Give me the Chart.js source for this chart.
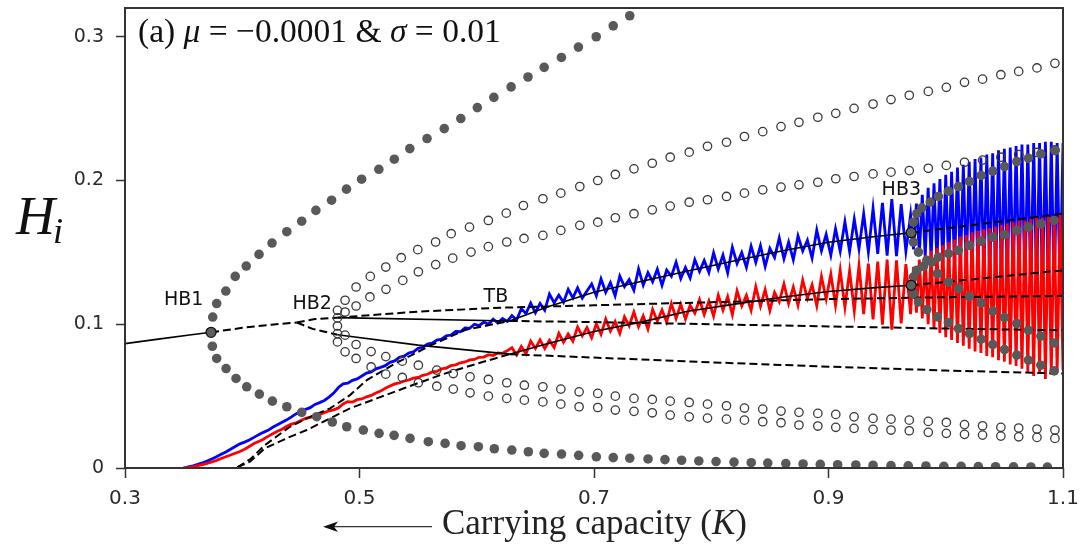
<!DOCTYPE html>
<html>
<head>
<meta charset="utf-8">
<script src="https://cdn.jsdelivr.net/npm/chart.js@4.4.1/dist/chart.umd.min.js"></script>
<style>
  html, body { margin: 0; padding: 0; background: #fff; }
  #wrap { width: 1081px; height: 549px; }
</style>
</head>
<body>
<div id="wrap"><canvas id="chart" width="1081" height="549"></canvas></div>
<script>
// Axis ticks
const xTicks = [0.3, 0.5, 0.7, 0.9, 1.1];
const yTicks = [0, 0.1, 0.2, 0.3];

// Equilibrium branches [K, H]
const leftStable = [[0.3, 0.0865], [0.33, 0.0898], [0.355, 0.0925], [0.3734, 0.0944]];
const hb1ToFold = [[0.3734, 0.0944], [0.40, 0.0975], [0.425, 0.0997], [0.4465, 0.1012]];
const foldToHb2Up = [[0.4465, 0.1012], [0.462, 0.1036], [0.4812, 0.1046]];
const foldToHb2Low = [[0.4465, 0.1012], [0.46, 0.0968], [0.4812, 0.0927]];
const topUnstable = [[0.4812, 0.1046], [0.55, 0.1088], [0.62, 0.1115], [0.70, 0.1132], [0.8, 0.1153], [0.9, 0.1175], [1.0, 0.1188], [1.1, 0.1197]];
const hb2TbUp = [[0.4812, 0.1046], [0.628, 0.1023]];
const hb2TbLow = [[0.4812, 0.0927], [0.55, 0.0855], [0.628, 0.0792]];
const tbUpRight = [[0.628, 0.1023], [0.7, 0.1015], [0.8, 0.1], [0.9, 0.0985], [1.0, 0.097], [1.1, 0.0958]];
const tbLowRight = [[0.628, 0.0792], [0.7, 0.0768], [0.8, 0.0735], [0.9, 0.0705], [1.0, 0.0678], [1.1, 0.0657]];
const blueUnstable = [[0.3958, 0.0005], [0.4066, 0.006], [0.4194, 0.016], [0.4407, 0.0287], [0.4578, 0.0356], [0.4749, 0.0415], [0.4919, 0.0507], [0.5062, 0.0611], [0.53, 0.0725], [0.56, 0.085], [0.59, 0.096], [0.628, 0.1023]];
const redUnstable = [[0.3958, 0.0005], [0.4066, 0.0044], [0.4194, 0.0137], [0.4407, 0.0217], [0.455, 0.0264], [0.4749, 0.0345], [0.4919, 0.0415], [0.5147, 0.0484], [0.5374, 0.0553], [0.57, 0.065], [0.60, 0.0725], [0.628, 0.0792]];
const blueStable = [[0.628, 0.1023], [0.66, 0.112], [0.70, 0.1222], [0.74, 0.1298], [0.78, 0.137], [0.82, 0.1442], [0.86, 0.151], [0.90, 0.157], [0.94, 0.161], [0.9705, 0.1637]];
const redStable = [[0.628, 0.0792], [0.66, 0.0865], [0.70, 0.095], [0.74, 0.1015], [0.78, 0.109], [0.82, 0.114], [0.86, 0.1188], [0.90, 0.1228], [0.94, 0.1255], [0.9705, 0.1271]];
const blueAfterHb3 = [[0.9705, 0.1637], [1.1, 0.1769]];
const redAfterHb3 = [[0.9705, 0.1271], [1.1, 0.1375]];

// Hopf points
const hopfPoints = [[0.3734, 0.0944], [0.9705, 0.1637], [0.9705, 0.1271]];

// Stable limit cycle extrema (filled dots)
const hb1Upper = [[0.3748, 0.105], [0.3782, 0.1144], [0.386, 0.1231], [0.394, 0.1333], [0.4034, 0.1405], [0.4143, 0.1486], [0.4254, 0.1565], [0.438, 0.1644], [0.4507, 0.1717], [0.4628, 0.1792], [0.4762, 0.1863], [0.4889, 0.194], [0.5018, 0.2009], [0.5165, 0.2078], [0.5297, 0.2148], [0.5429, 0.2222], [0.5576, 0.2292], [0.5723, 0.2361], [0.5864, 0.2431], [0.6005, 0.2507], [0.6146, 0.2578], [0.6293, 0.2651], [0.6437, 0.272], [0.6575, 0.2787], [0.6722, 0.2856], [0.6867, 0.2928], [0.7019, 0.3], [0.7164, 0.3076], [0.7305, 0.3146]];
const hb1Lower = [[0.3745, 0.0847], [0.3782, 0.0762], [0.3862, 0.0692], [0.3947, 0.0623], [0.4038, 0.0565], [0.4146, 0.0514], [0.4257, 0.0465], [0.438, 0.0426], [0.4507, 0.0387], [0.4635, 0.0357], [0.4768, 0.032], [0.4891, 0.0287], [0.5033, 0.0264], [0.5167, 0.0241], [0.5295, 0.0227], [0.5431, 0.0206], [0.5587, 0.0183], [0.573, 0.0171], [0.5866, 0.0155], [0.6014, 0.0148], [0.615, 0.0134], [0.6299, 0.0125], [0.644, 0.0113], [0.6575, 0.0102], [0.6723, 0.0097], [0.6869, 0.0088], [0.702, 0.0078], [0.7164, 0.0072], [0.7305, 0.0068], [0.7461, 0.0063], [0.7605, 0.0058], [0.7747, 0.0054], [0.7894, 0.0049], [0.8041, 0.0045], [0.8194, 0.0041], [0.8341, 0.0037], [0.8482, 0.0034], [0.8636, 0.0031], [0.8783, 0.0028], [0.893, 0.0025], [0.9078, 0.0023], [0.9233, 0.0021], [0.938, 0.0019], [0.9533, 0.0017], [0.968, 0.0015], [0.9831, 0.0014], [0.9984, 0.0012], [1.0131, 0.0011], [1.0278, 0.001], [1.0425, 0.0009], [1.0578, 0.0008], [1.0726, 0.0007], [1.0867, 0.0006]];
const hb3UpUp = [[0.9724, 0.171], [0.9753, 0.1769], [0.9796, 0.181], [0.9867, 0.185], [0.9937, 0.1889], [1.0023, 0.1926], [1.0108, 0.1958], [1.0202, 0.1993], [1.0302, 0.2035], [1.0401, 0.2065], [1.0501, 0.2097], [1.0606, 0.2132], [1.0705, 0.2155], [1.0811, 0.2185], [1.0933, 0.2208]];
const hb3UpDown = [[0.9724, 0.1572], [0.9767, 0.1502], [0.9839, 0.1444], [0.9929, 0.1352], [1.0023, 0.1294], [1.0108, 0.1248], [1.0202, 0.1194], [1.0302, 0.1148], [1.0401, 0.1092], [1.0501, 0.1047], [1.0606, 0.1005], [1.0705, 0.0958], [1.0811, 0.0917], [1.0924, 0.087]];
const hb3LowUp = [[0.9724, 0.1328], [0.9753, 0.1375], [0.981, 0.1403], [0.9881, 0.1433], [0.9937, 0.1467], [1.0023, 0.1491], [1.0108, 0.1514], [1.0202, 0.1549], [1.0302, 0.1578], [1.0401, 0.1606], [1.0501, 0.1623], [1.0606, 0.1653], [1.0705, 0.1676], [1.0811, 0.1699], [1.0924, 0.1722]];
const hb3LowDown = [[0.9724, 0.1213], [0.9767, 0.1155], [0.9839, 0.1102], [0.9929, 0.1051], [1.0023, 0.1012], [1.0108, 0.097], [1.0202, 0.0935], [1.0302, 0.0896], [1.0401, 0.0859], [1.0501, 0.0824], [1.0606, 0.0785], [1.0705, 0.075], [1.0811, 0.0715], [1.0924, 0.0676]];

// Unstable limit cycle extrema (open circles)
const hb2OuterUp = [[0.4812, 0.1097], [0.4877, 0.1167], [0.4971, 0.1259], [0.5092, 0.1333], [0.5224, 0.1398], [0.5356, 0.1463], [0.5497, 0.1519], [0.5649, 0.1572], [0.5782, 0.163], [0.5938, 0.1676], [0.6099, 0.1722], [0.6252, 0.1773], [0.6398, 0.1826], [0.6564, 0.1873], [0.6717, 0.1912], [0.6879, 0.1958], [0.7032, 0.2], [0.7182, 0.2042], [0.7341, 0.2081], [0.7497, 0.212], [0.765, 0.2162], [0.7812, 0.2197], [0.7968, 0.2238], [0.813, 0.2266], [0.8283, 0.2306], [0.8439, 0.234], [0.8595, 0.2375], [0.8748, 0.2405], [0.8909, 0.244], [0.9062, 0.2467], [0.9218, 0.2502], [0.938, 0.2532], [0.9533, 0.2563], [0.9689, 0.2593], [0.9851, 0.262], [1.0005, 0.2648], [1.016, 0.2683], [1.0314, 0.2705], [1.047, 0.2736], [1.0622, 0.2759], [1.0778, 0.2783], [1.0931, 0.2815]];
const hb2InnerUp = [[0.4812, 0.1044], [0.4877, 0.1085], [0.4971, 0.1127], [0.5089, 0.119], [0.5226, 0.1243], [0.5369, 0.1305], [0.5502, 0.1365], [0.565, 0.1415], [0.5795, 0.146], [0.5951, 0.1502], [0.6099, 0.154], [0.6256, 0.1572], [0.6403, 0.1597], [0.6564, 0.1618], [0.6717, 0.1653], [0.6879, 0.1688], [0.7032, 0.171], [0.7182, 0.1741], [0.7341, 0.1769], [0.7497, 0.1796], [0.765, 0.1822], [0.7812, 0.1849], [0.7968, 0.1866], [0.813, 0.1889], [0.8283, 0.1912], [0.8439, 0.1935], [0.8595, 0.1954], [0.8748, 0.197], [0.8909, 0.1988], [0.9062, 0.2012], [0.9218, 0.2028], [0.938, 0.2046], [0.9533, 0.2058], [0.9689, 0.2069], [0.9851, 0.2085], [1.0005, 0.2105], [1.016, 0.2127], [1.0314, 0.2142], [1.047, 0.2162], [1.0622, 0.2181], [1.0778, 0.2195], [1.0931, 0.2213]];
const hb2InnerLow = [[0.4812, 0.0988], [0.4877, 0.0924], [0.4971, 0.0859], [0.5099, 0.081], [0.5224, 0.0775], [0.5365, 0.0743], [0.5502, 0.0715], [0.5659, 0.0681], [0.58, 0.0657], [0.5943, 0.0634], [0.6099, 0.0616], [0.6256, 0.0593], [0.6406, 0.0576], [0.6564, 0.0565], [0.6717, 0.0549], [0.6873, 0.053], [0.7032, 0.0519], [0.7182, 0.05], [0.7341, 0.0484], [0.7497, 0.0477], [0.765, 0.0465], [0.7812, 0.0456], [0.7968, 0.0444], [0.813, 0.0433], [0.8283, 0.0417], [0.8439, 0.041], [0.8595, 0.0396], [0.8748, 0.0387], [0.8909, 0.038], [0.9062, 0.0373], [0.9218, 0.0356], [0.938, 0.0345], [0.9533, 0.034], [0.9689, 0.0333], [0.9851, 0.0324], [1.0005, 0.0317], [1.016, 0.0302], [1.0314, 0.0294], [1.047, 0.0283], [1.0622, 0.0278], [1.0778, 0.0271], [1.0931, 0.0264]];
const hb2OuterLow = [[0.4812, 0.0935], [0.4812, 0.0877], [0.4877, 0.0808], [0.4971, 0.0762], [0.5099, 0.0703], [0.5224, 0.0653], [0.5365, 0.063], [0.5502, 0.0593], [0.5659, 0.0569], [0.58, 0.0549], [0.5943, 0.0523], [0.6099, 0.05], [0.6256, 0.0484], [0.6406, 0.0472], [0.6564, 0.046], [0.6717, 0.0444], [0.6873, 0.0426], [0.7032, 0.0421], [0.7182, 0.0403], [0.7341, 0.0394], [0.7497, 0.0384], [0.765, 0.0368], [0.7812, 0.0356], [0.7968, 0.0347], [0.813, 0.034], [0.8283, 0.0333], [0.8439, 0.0322], [0.8595, 0.0315], [0.8748, 0.0299], [0.8909, 0.0292], [0.9062, 0.0283], [0.9218, 0.0276], [0.938, 0.0269], [0.9533, 0.0264], [0.9689, 0.0259], [0.9851, 0.0248], [1.0005, 0.0241], [1.016, 0.0234], [1.0314, 0.0229], [1.047, 0.0222], [1.0622, 0.0217], [1.0778, 0.0213], [1.0931, 0.0206]];

// Simulated trajectories, sampled on K grids
const simStart = 0.35, simStep = 0.004;
const oscStart = 0.9725, oscStep = 0.0025;
const blueSim = [
  0.0000, 0.0008, 0.0015, 0.0025, 0.0036, 0.0048, 0.0062, 0.0078, 0.0095, 0.0112,
  0.0130, 0.0150, 0.0168, 0.0180, 0.0195, 0.0213, 0.0232, 0.0248, 0.0262, 0.0283,
  0.0301, 0.0318, 0.0335, 0.0356, 0.0378, 0.0390, 0.0408, 0.0420, 0.0442, 0.0455,
  0.0470, 0.0493, 0.0521, 0.0560, 0.0585, 0.0590, 0.0610, 0.0620, 0.0640, 0.0660,
  0.0668, 0.0690, 0.0700, 0.0712, 0.0735, 0.0745, 0.0770, 0.0778, 0.0800, 0.0808,
  0.0832, 0.0840, 0.0862, 0.0868, 0.0890, 0.0896, 0.0920, 0.0925, 0.0950, 0.0948,
  0.0975, 0.0972, 0.1000, 0.0990, 0.1015, 0.1000, 0.1035, 0.1010, 0.1040, 0.1020,
  0.1060, 0.1030, 0.1108, 0.1075, 0.1148, 0.1080, 0.1145, 0.1097, 0.1210, 0.1150,
  0.1202, 0.1152, 0.1243, 0.1183, 0.1253, 0.1182, 0.1232, 0.1280, 0.1198, 0.1315,
  0.1222, 0.1290, 0.1198, 0.1335, 0.1262, 0.1310, 0.1237, 0.1385, 0.1272, 0.1359,
  0.1296, 0.1383, 0.1270, 0.1377, 0.1334, 0.1431, 0.1318, 0.1395, 0.1322, 0.1449,
  0.1366, 0.1443, 0.1360, 0.1497, 0.1384, 0.1481, 0.1358, 0.1535, 0.1422, 0.1499,
  0.1396, 0.1543, 0.1430, 0.1546, 0.1402, 0.1528, 0.1464, 0.1600, 0.1456, 0.1572,
  0.1448, 0.1614, 0.1510, 0.1585, 0.1460, 0.1655, 0.1510, 0.1625, 0.1480, 0.1664,
  0.1508, 0.1712, 0.1506, 0.1730, 0.1524, 0.1768, 0.1502, 0.1806, 0.1490, 0.1844,
  0.1478, 0.1871, 0.1474, 0.1836, 0.1508, 0.1760
];
const blueOsc = [
  0.152, 0.184, 0.149, 0.190, 0.147, 0.195, 0.145, 0.198, 0.143, 0.201,
  0.142, 0.204, 0.140, 0.206, 0.139, 0.209, 0.138, 0.211, 0.136, 0.213,
  0.135, 0.215, 0.134, 0.216, 0.132, 0.218, 0.131, 0.219, 0.130, 0.221,
  0.129, 0.222, 0.128, 0.223, 0.127, 0.224, 0.126, 0.225, 0.125, 0.225,
  0.124, 0.226, 0.123, 0.226, 0.122, 0.227, 0.121, 0.227, 0.120, 0.226,
  0.120, 0.226
];
const redSim = [
  0.0000, 0.0005, 0.0010, 0.0016, 0.0024, 0.0032, 0.0042, 0.0053, 0.0066, 0.0078,
  0.0090, 0.0103, 0.0115, 0.0130, 0.0150, 0.0170, 0.0185, 0.0200, 0.0220, 0.0238,
  0.0255, 0.0270, 0.0290, 0.0305, 0.0315, 0.0330, 0.0345, 0.0352, 0.0360, 0.0372,
  0.0385, 0.0398, 0.0405, 0.0418, 0.0445, 0.0462, 0.0458, 0.0475, 0.0480, 0.0495,
  0.0505, 0.0522, 0.0535, 0.0555, 0.0570, 0.0585, 0.0592, 0.0605, 0.0612, 0.0625,
  0.0630, 0.0645, 0.0652, 0.0668, 0.0672, 0.0690, 0.0695, 0.0712, 0.0718, 0.0732,
  0.0738, 0.0752, 0.0755, 0.0770, 0.0772, 0.0788, 0.0782, 0.0800, 0.0798, 0.0815,
  0.0837, 0.0786, 0.0845, 0.0794, 0.0883, 0.0832, 0.0891, 0.0830, 0.0889, 0.0838,
  0.0937, 0.0875, 0.0933, 0.0882, 0.0980, 0.0919, 0.0977, 0.0906, 0.1003, 0.0930,
  0.1036, 0.0953, 0.1019, 0.0936, 0.1052, 0.0989, 0.1085, 0.0982, 0.1059, 0.0966,
  0.1104, 0.1021, 0.1099, 0.1016, 0.1144, 0.1041, 0.1139, 0.1036, 0.1132, 0.1077,
  0.1172, 0.1067, 0.1162, 0.1057, 0.1202, 0.1097, 0.1192, 0.1067, 0.1232, 0.1127,
  0.1202, 0.1097, 0.1261, 0.1126, 0.1241, 0.1096, 0.1221, 0.1156, 0.1280, 0.1144,
  0.1258, 0.1132, 0.1306, 0.1180, 0.1274, 0.1128, 0.1332, 0.1176, 0.1349, 0.1132,
  0.1375, 0.1118, 0.1371, 0.1094, 0.1407, 0.1070, 0.1422, 0.1034, 0.1436, 0.0998,
  0.1450, 0.0962, 0.1444, 0.1006, 0.1418, 0.1070
];
const redOsc = [
  0.140, 0.108, 0.145, 0.104, 0.148, 0.100, 0.151, 0.097, 0.153, 0.094,
  0.155, 0.091, 0.157, 0.089, 0.159, 0.087, 0.161, 0.085, 0.162, 0.083,
  0.164, 0.081, 0.165, 0.080, 0.166, 0.078, 0.167, 0.077, 0.168, 0.075,
  0.169, 0.074, 0.170, 0.072, 0.171, 0.071, 0.172, 0.069, 0.172, 0.067,
  0.173, 0.064, 0.174, 0.066, 0.174, 0.062, 0.175, 0.065, 0.175, 0.066,
  0.176, 0.068
];

// Text annotations
const bifLabels = [
  { text: 'HB1', k: 0.3501, h: 0.1132 },
  { text: 'HB2', k: 0.4596, h: 0.1109 },
  { text: 'TB', k: 0.6163, h: 0.1155 },
  { text: 'HB3', k: 0.9621, h: 0.1896 }
];
const titleParts = [
  { t: '(a) ' }, { t: 'μ', it: true }, { t: ' = −0.0001 & ' }, { t: 'σ', it: true }, { t: ' = 0.01' }
];
const xLabelParts = [{ t: 'Carrying capacity (' }, { t: 'K', it: true }, { t: ')' }];

// helpers
const pts = arr => arr.map(([k, h]) => ({ x: k, y: h }));
const onGrid = (start, step, vals) => vals.map((h, i) => ({ x: +(start + i * step).toFixed(4), y: h }));

const solid = data => ({ data: pts(data), showLine: true, pointRadius: 0, borderColor: '#000', borderWidth: 1.6, tension: 0 });
const dashed = data => ({ data: pts(data), showLine: true, pointRadius: 0, borderColor: '#000', borderWidth: 2, borderDash: [8, 4], tension: 0 });
const dots = data => ({ data: pts(data), showLine: false, pointRadius: 4.8, pointBackgroundColor: '#595959', pointBorderWidth: 0 });
const rings = data => ({ data: pts(data), showLine: false, pointRadius: 4.2, pointBackgroundColor: 'rgba(0,0,0,0)', pointBorderColor: '#3a3a3a', pointBorderWidth: 1.3 });
const trace = (color, a, b) => ({
  data: onGrid(simStart, simStep, a).concat(onGrid(oscStart, oscStep, b)),
  showLine: true, pointRadius: 0, borderColor: color, borderWidth: 2.8, tension: 0
});

function drawRich(ctx, parts, x, baseline, targetWidth) {
  const fontFor = (p, size) => (p.it ? 'italic ' : '') + size + 'px "Liberation Serif", "DejaVu Serif", serif';
  let w = 0;
  parts.forEach(p => { ctx.font = fontFor(p, 100); w += ctx.measureText(p.t).width; });
  const size = 100 * targetWidth / w;
  ctx.textAlign = 'left';
  ctx.textBaseline = 'alphabetic';
  parts.forEach(p => {
    ctx.font = fontFor(p, size);
    ctx.fillText(p.t, x, baseline);
    x += ctx.measureText(p.t).width;
  });
}

const decorations = {
  id: 'decorations',
  afterDraw(chart) {
    const { ctx, chartArea: a, scales: { x, y } } = chart;
    ctx.save();
    // axes frame
    ctx.strokeStyle = '#333';
    ctx.lineWidth = 2;
    ctx.strokeRect(a.left, a.top, a.right - a.left, a.bottom - a.top);

    // bifurcation labels
    ctx.fillStyle = '#111';
    ctx.font = '19px "DejaVu Sans"';
    ctx.textAlign = 'center';
    ctx.textBaseline = 'alphabetic';
    bifLabels.forEach(l => ctx.fillText(l.text, x.getPixelForValue(l.k), y.getPixelForValue(l.h)));

    // panel title
    ctx.fillStyle = '#111';
    drawRich(ctx, titleParts, 138, 42, 363);

    // y label H_i
    ctx.font = 'italic 54px "Liberation Serif", serif';
    ctx.textAlign = 'left';
    ctx.fillText('H', 16, 234);
    const hw = ctx.measureText('H').width;
    ctx.font = 'italic 36px "Liberation Serif", serif';
    ctx.fillText('i', 16 + hw - 2, 243);

    // x label with arrow
    ctx.fillStyle = '#222';
    drawRich(ctx, xLabelParts, 442, 534, 305);
    ctx.strokeStyle = '#333';
    ctx.lineWidth = 1.2;
    ctx.beginPath();
    ctx.moveTo(334, 526.7);
    ctx.lineTo(432, 526.7);
    ctx.stroke();
    ctx.fillStyle = '#111';
    ctx.beginPath();
    ctx.moveTo(323, 526.7);
    ctx.lineTo(338, 521.5);
    ctx.lineTo(334, 526.7);
    ctx.lineTo(338, 532);
    ctx.closePath();
    ctx.fill();
    ctx.restore();
  }
};

new Chart(document.getElementById('chart'), {
  type: 'scatter',
  data: {
    datasets: [
      { data: pts(hopfPoints), showLine: false, pointRadius: 5, pointBackgroundColor: '#5e5e5e', pointBorderColor: '#111', pointBorderWidth: 1.3 },
      dots(hb1Upper), dots(hb1Lower),
      dots(hb3UpUp), dots(hb3UpDown), dots(hb3LowUp), dots(hb3LowDown),
      rings(hb2OuterUp), rings(hb2InnerUp), rings(hb2InnerLow), rings(hb2OuterLow),
      solid(leftStable), solid(hb2TbUp), solid(hb2TbLow), solid(blueStable), solid(redStable),
      dashed(hb1ToFold), dashed(foldToHb2Up), dashed(foldToHb2Low), dashed(topUnstable),
      dashed(tbUpRight), dashed(tbLowRight), dashed(blueUnstable), dashed(redUnstable),
      dashed(blueAfterHb3), dashed(redAfterHb3),
      trace('#ff0000', redSim, redOsc),
      trace('#0000ff', blueSim, blueOsc)
    ]
  },
  options: {
    responsive: false,
    animation: false,
    events: [],
    layout: { padding: { top: 8, right: 18, left: 0, bottom: 0 } },
    plugins: { legend: { display: false }, tooltip: { enabled: false } },
    scales: {
      x: {
        type: 'linear', min: 0.3, max: 1.1,
        afterBuildTicks: s => { s.ticks = xTicks.map(v => ({ value: v })); },
        afterFit: s => { s.height = 81; s.paddingLeft = 0; s.paddingRight = 0; },
        ticks: { font: { family: 'DejaVu Sans', size: 20 }, color: '#2b2b2b', padding: 9, maxRotation: 0, autoSkip: false, callback: v => v.toFixed(1) },
        grid: { drawOnChartArea: false, drawTicks: true, tickLength: 10, tickColor: '#333', tickWidth: 1.5 },
        border: { display: false }
      },
      y: {
        type: 'linear', min: 0, max: 0.32,
        afterBuildTicks: s => { s.ticks = yTicks.map(v => ({ value: v })); },
        afterFit: s => { s.width = 125; s.paddingTop = 0; s.paddingBottom = 0; },
        ticks: { font: { family: 'DejaVu Sans', size: 19 }, color: '#2b2b2b', padding: 12, autoSkip: false, callback: v => v === 0 ? '0' : v.toFixed(1) },
        grid: { drawOnChartArea: false, drawTicks: true, tickLength: 9, tickColor: '#333', tickWidth: 1.5 },
        border: { display: false }
      }
    }
  },
  plugins: [decorations]
});
</script>
</body>
</html>
